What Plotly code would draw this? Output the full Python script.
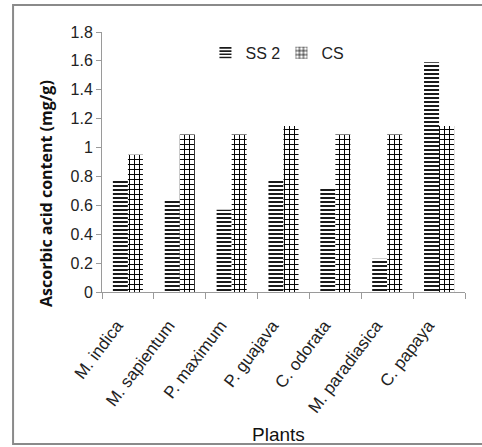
import plotly.graph_objects as go

plants = ["M. indica", "M. sapientum", "P. maximum", "P. guajava",
          "C. odorata", "M. paradiasica", "C. papaya"]
ss2 = [0.78, 0.63, 0.57, 0.78, 0.72, 0.23, 1.59]
cs = [0.95, 1.09, 1.09, 1.15, 1.09, 1.09, 1.15]
y_ticks = [0, 0.2, 0.4, 0.6, 0.8, 1, 1.2, 1.4, 1.6, 1.8]

FONT = "Liberation Sans Narrow, Arial Narrow, Liberation Sans, sans-serif"
AXIS_GREY = "#9a9a9a"

fig = go.Figure()
fig.add_trace(go.Bar(
    x=plants, y=ss2, name="SS 2",
    marker=dict(color="white", line=dict(width=0),
                pattern=dict(shape="-", fgcolor="black", bgcolor="white",
                             size=4, solidity=0.45, fillmode="replace")),
))
fig.add_trace(go.Bar(
    x=plants, y=cs, name="CS",
    marker=dict(color="white", line=dict(width=0),
                pattern=dict(shape="+", fgcolor="black", bgcolor="white",
                             size=5, solidity=0.35, fillmode="replace")),
))

fig.update_layout(
    width=482, height=447,
    margin=dict(l=102, r=17, t=32, b=155),
    paper_bgcolor="white", plot_bgcolor="white",
    barmode="group", bargap=0.42, bargroupgap=0,
    font=dict(family=FONT, size=16, color="#222"),
    showlegend=True,
    legend=dict(orientation="h", x=0.285, y=0.92, xanchor="left", yanchor="middle",
                font=dict(family=FONT, size=16, color="#222"),
                bgcolor="rgba(0,0,0,0)", itemwidth=30, entrywidth=31,
                tracegroupgap=0),
    xaxis=dict(showline=True, linecolor=AXIS_GREY, linewidth=1,
               ticks="outside", tickson="boundaries", ticklen=6,
               tickcolor=AXIS_GREY, tickangle=-53, showgrid=False,
               ticklabelstandoff=16, ticklabelshift=-11,
               tickfont=dict(family=FONT, size=17, color="#222")),
    yaxis=dict(range=[0, 1.8], tickvals=y_ticks, showline=True,
               linecolor=AXIS_GREY, linewidth=1, ticks="outside", ticklen=5,
               tickcolor=AXIS_GREY, showgrid=False, zeroline=False,
               tickfont=dict(family=FONT, size=16, color="#222")),
    shapes=[dict(type="rect", xref="paper", yref="paper",
                 x0=-0.245, x1=1.12, y0=-0.585, y1=1.104,
                 line=dict(color="#8a8a8a", width=2), fillcolor="rgba(0,0,0,0)",
                 layer="below")],
    annotations=[
        dict(text="<b>Ascorbic acid content (mg/g)</b>", xref="paper", yref="paper",
             x=-0.155, y=0.38, textangle=-90, showarrow=False,
             xanchor="center", yanchor="middle",
             font=dict(family="Open Sans, DejaVu Sans, sans-serif", size=16, color="#111")),
        dict(text="Plants", xref="paper", yref="paper", x=0.485, y=-0.548,
             showarrow=False, xanchor="center", yanchor="middle",
             font=dict(family=FONT, size=19, color="#111")),
    ],
)

fig.write_html("out.html")
